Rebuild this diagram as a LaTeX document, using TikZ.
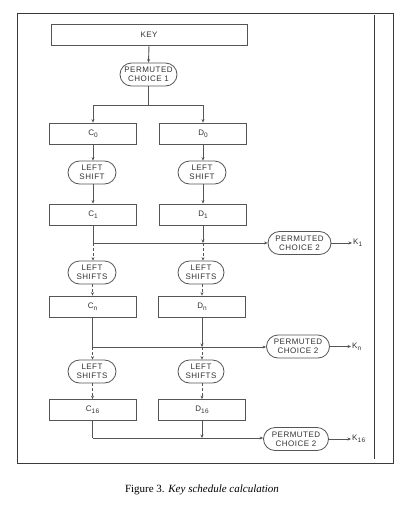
\documentclass[tikz,border=0pt]{standalone}
\usepackage{fontspec}
\setmainfont{Liberation Serif}
\newfontfamily\diagfont[LetterSpace=6]{Liberation Sans}
\usetikzlibrary{arrows.meta,shapes.misc}
\definecolor{linec}{HTML}{555555}
\definecolor{textc}{HTML}{333333}
\definecolor{framec}{HTML}{3A3A3A}
\newcommand\lsub[1]{\raisebox{-0.45ex}{\fontsize{6.5}{6.5}\selectfont #1}}
\begin{document}
\begin{tikzpicture}[x=1pt,y=-1pt,
  ln/.style={draw=linec, line width=0.9pt},
  arr/.style={ln, -{Stealth[length=3.5pt,width=3pt]}},
  dsh/.style={dash pattern=on 3pt off 2pt},
  txt/.style={font=\diagfont\fontsize{8}{8.8}\selectfont, text=textc},
  box/.style={txt, draw=linec, fill=white, line width=0.8pt, minimum width=87pt, minimum height=21pt, inner sep=0pt},
  pill/.style={txt, rounded rectangle, draw=linec, fill=white, line width=0.8pt, minimum height=23pt, inner sep=1pt, align=center},
  klabel/.style={txt, anchor=west, inner sep=1pt}]
\useasboundingbox (0,0) rectangle (404,509);
\fill[white] (0,0) rectangle (404,509);
% frame
\draw[framec, line width=1pt] (17,13) rectangle (393,463);
\draw[framec, line width=1pt] (374,15) -- (374,459);
% top
\node[box, minimum width=196pt] (key) at (149,34.5) {KEY};
\node[pill, minimum width=59pt] (pc1) at (148.5,74.5) {PERMUTED\\CHOICE 1};
\coordinate (br) at (148.5,105);
% row 0
\node[box] (c0) at (93,133.5) {C\lsub{0}};
\node[box] (d0) at (203,133.5) {D\lsub{0}};
\node[pill, minimum width=50pt] (ls1c) at (92,172.5) {LEFT\\SHIFT};
\node[pill, minimum width=50pt] (ls1d) at (202,172.5) {LEFT\\SHIFT};
\node[box] (c1) at (93,214.5) {C\lsub{1}};
\node[box] (d1) at (203,214.5) {D\lsub{1}};
% junction 1
\coordinate (j1c) at (93,243);
\coordinate (j1d) at (203,243);
\node[pill, minimum width=65pt] (pc2a) at (299.5,243) {PERMUTED\\CHOICE 2};
\node[klabel] (k1) at (352,243) {K\lsub{1}};
% row n
\node[pill, minimum width=50pt] (ls2c) at (92,272.5) {LEFT\\SHIFTS};
\node[pill, minimum width=48pt] (ls2d) at (201,272.5) {LEFT\\SHIFTS};
\node[box] (cn) at (92.5,306.5) {C\lsub{n}};
\node[box] (dn) at (202,306.5) {D\lsub{n}};
\coordinate (j2c) at (92.5,347);
\coordinate (j2d) at (202,347);
\node[pill, minimum width=65pt] (pc2b) at (298,346.5) {PERMUTED\\CHOICE 2};
\node[klabel] (kn) at (351,346.5) {K\lsub{n}};
% row 16
\node[pill, minimum width=50pt] (ls3c) at (92,371.5) {LEFT\\SHIFTS};
\node[pill, minimum width=48pt] (ls3d) at (201,371.5) {LEFT\\SHIFTS};
\node[box] (c16) at (92.5,410) {C\lsub{16}};
\node[box] (d16) at (202,410) {D\lsub{16}};
\coordinate (j3c) at (92.5,438);
\coordinate (j3d) at (202,438);
\node[pill, minimum width=67pt] (pc2c) at (296,439) {PERMUTED\\CHOICE 2};
\node[klabel] (k16) at (351,439) {K\lsub{16}};
% connectors
\draw[arr] (key.south) -- (pc1.north);
\draw[ln] (pc1.south) -- (br);
\draw[arr] (br) -| (c0.north);
\draw[arr] (br) -| (d0.north);
\draw[arr] (c0.south) -- (c0.south |- ls1c.north);
\draw[arr] (d0.south) -- (d0.south |- ls1d.north);
\draw[arr] (c1.south |- ls1c.south) -- (c1.north);
\draw[arr] (d1.south |- ls1d.south) -- (d1.north);
\draw[ln] (c1.south) -- (j1c);
\draw[arr] (j1c) -- (pc2a.west);
\draw[arr] (d1.south) -- (j1d);
\draw[arr] (pc2a.east) -- (k1.west);
\draw[arr,dsh] (j1c) -- (j1c |- ls2c.north);
\draw[arr,dsh] (j1d) -- (j1d |- ls2d.north);
\draw[arr,dsh] (cn.north |- ls2c.south) -- (cn.north);
\draw[arr,dsh] (dn.north |- ls2d.south) -- (dn.north);
\draw[ln] (cn.south) -- (j2c);
\draw[arr] (j2c) -- (j2c -| pc2b.west);
\draw[arr] (dn.south) -- (j2d);
\draw[arr] (pc2b.east) -- (kn.west);
\draw[arr,dsh] (j2c) -- (j2c |- ls3c.north);
\draw[arr,dsh] (j2d) -- (j2d |- ls3d.north);
\draw[arr,dsh] (c16.north |- ls3c.south) -- (c16.north);
\draw[arr,dsh] (d16.north |- ls3d.south) -- (d16.north);
\draw[ln] (c16.south) -- (j3c);
\draw[arr] (j3c) -- (j3c -| pc2c.west);
\draw[arr] (d16.south) -- (j3d);
\draw[arr] (pc2c.east) -- (k16.west);
% caption
\node[font=\fontsize{11}{13}\selectfont, text=black] (cap) at (202,490) {Figure 3. \textit{Key schedule calculation}};
\end{tikzpicture}
\end{document}
